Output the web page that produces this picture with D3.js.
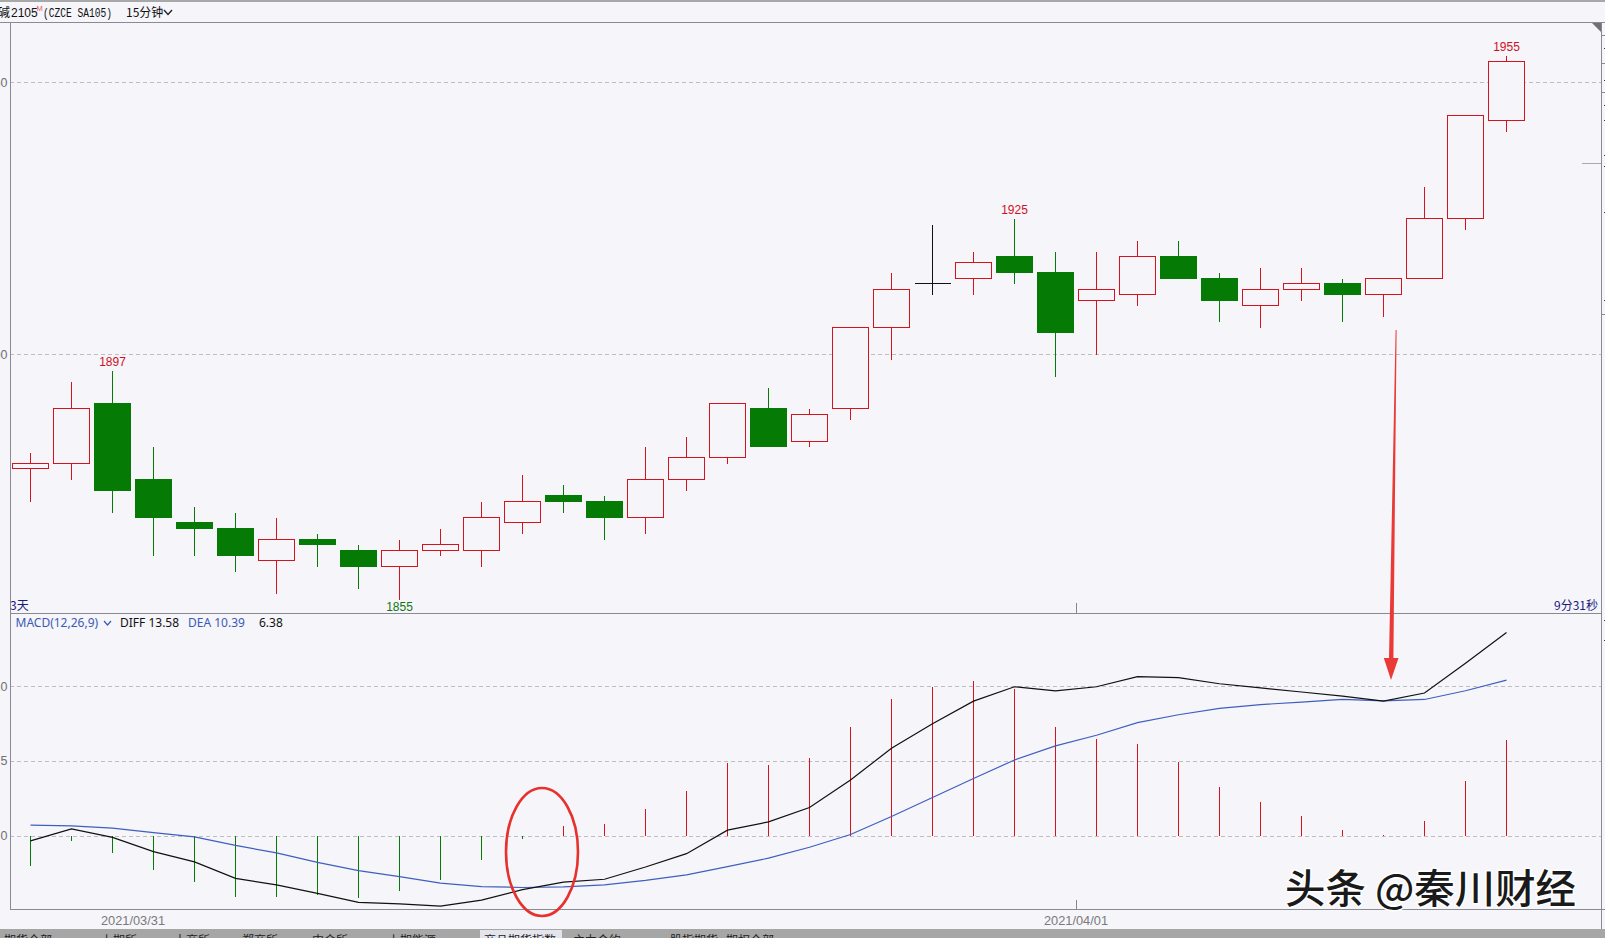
<!DOCTYPE html>
<html><head><meta charset="utf-8">
<script src="https://cdn.jsdelivr.net/npm/d3@7"></script>
<style>
html,body{margin:0;padding:0;background:#f5f5fa;overflow:hidden}
svg{display:block}
</style></head><body>
<svg id="c" width="1605" height="938"></svg>
<script>
// ---- data (15-minute bars, SA105) ----
const open  = [1879,1880,1891,1877,1869,1868,1862,1866,1864,1861,1864,1864,1869,1874,1873,1870,1877,1881,1890,1884,1890,1905,1913,1914,1918,1915,1910,1911,1918,1914,1909,1912,1913,1911,1914,1925,1943];
const high  = [1882,1895,1897,1883,1872,1871,1870,1867,1865,1866,1868,1873,1878,1876,1874,1883,1885,1891,1894,1890,1905,1915,1924,1919,1925,1919,1919,1921,1921,1915,1916,1916,1914,1914,1931,1944,1955];
const low   = [1873,1877,1871,1863,1863,1860,1856,1861,1857,1855,1863,1861,1867,1871,1866,1867,1875,1880,1883,1883,1888,1899,1911,1911,1913,1896,1900,1909,1914,1906,1905,1910,1906,1907,1914,1923,1941];
const close = [1880,1890,1875,1870,1868,1863,1866,1865,1861,1864,1865,1870,1873,1873,1870,1877,1881,1891,1883,1889,1905,1912,1913,1917,1915,1904,1912,1918,1914,1910,1912,1913,1911,1914,1925,1944,1954];
const diff  = [-0.35,0.45,-0.11,-1.06,-1.75,-2.85,-3.29,-3.85,-4.45,-4.56,-4.70,-4.30,-3.60,-3.10,-2.91,-2.09,-1.20,0.37,0.92,1.88,3.72,5.84,7.48,8.99,9.95,9.67,9.95,10.63,10.56,10.15,9.87,9.60,9.33,8.99,9.53,11.52,13.58];
const dea   = [0.70,0.65,0.50,0.20,-0.08,-0.65,-1.15,-1.78,-2.33,-2.73,-3.17,-3.40,-3.46,-3.42,-3.28,-2.99,-2.62,-2.07,-1.50,-0.77,0.08,1.28,2.55,3.82,5.06,6.00,6.71,7.55,8.08,8.50,8.76,8.92,9.10,9.00,9.10,9.68,10.39];
const macd  = [-2.05,-0.36,-1.14,-2.29,-3.09,-4.09,-4.09,-3.95,-4.16,-3.69,-2.95,-1.62,-0.24,0.65,0.78,1.80,2.98,4.88,4.75,5.22,7.27,9.13,9.95,10.35,9.81,7.27,6.46,6.12,4.95,3.25,2.22,1.33,0.38,0.05,0.98,3.65,6.38];
const priceTicks = [1900,1950];
const macdTicks  = [0,5,10];
const highLabelIdx = [2,24,36];
const lowLabelIdx  = [9];
const dateLabels = ["2021/03/31","2021/04/01"];
const dateIdx    = [3,26];
const tabLabels = ["期货全部","上期所","大商所","郑商所","中金所","上期能源","商品期货指数","主力合约","股指期货","期权全部"];

// ---- layout ----
const svg = d3.select("#c");
const L=10, R=1601, TOP=22, MAINB=613, MACDB=909;
const UP="#d5131d", DN="#057a05", BG="#f5f5fa";
const n = open.length;
const x  = d3.scaleBand().domain(d3.range(n)).range([L, L+41*n]);
const cx = i => x(i) + 20.5;
const y  = d3.scaleLinear().domain([1900,1950]).range([354,82.3]);
const ym = d3.scaleLinear().domain([0,10]).range([835.7,686]);
const snap = v => Math.round(v)+0.5;

svg.append("rect").attr("width",1605).attr("height",938).attr("fill",BG);
svg.append("rect").attr("width",1605).attr("height",2).attr("fill","#a8a8a8");

// grid
const g = svg.append("g");
g.selectAll(".pg").data(priceTicks).join("line")
  .attr("x1",L).attr("x2",R).attr("y1",d=>snap(y(d))).attr("y2",d=>snap(y(d)))
  .attr("stroke","#bdbdc4").attr("stroke-dasharray","4,3");
g.selectAll(".pt").data(priceTicks).join("text")
  .attr("x",7.5).attr("y",d=>y(d)+4.5).attr("text-anchor","end")
  .attr("font-family","Liberation Sans").attr("font-size",12.5).attr("fill","#707070").text(d=>d);
g.selectAll(".mg").data(macdTicks).join("line")
  .attr("x1",L).attr("x2",R).attr("y1",d=>snap(ym(d))).attr("y2",d=>snap(ym(d)))
  .attr("stroke","#bdbdc4").attr("stroke-dasharray","4,3");
g.selectAll(".mt").data(macdTicks).join("text")
  .attr("x",7.5).attr("y",d=>ym(d)+4.5).attr("text-anchor","end")
  .attr("font-family","Liberation Sans").attr("font-size",12.5).attr("fill","#707070").text(d=>d);

// MACD histogram
svg.append("g").selectAll("line").data(macd).join("line")
  .attr("x1",(d,i)=>cx(i)).attr("x2",(d,i)=>cx(i))
  .attr("y1",ym(0)).attr("y2",d=>ym(d))
  .attr("stroke",d=>d>=0?UP:DN).attr("stroke-width",1).attr("shape-rendering","crispEdges");

// MACD lines
const ln = d3.line().x((d,i)=>cx(i)).y(d=>ym(d));
svg.append("path").datum(dea).attr("d",ln).attr("fill","none").attr("stroke","#3f5fc0").attr("stroke-width",1.2);
svg.append("path").datum(diff).attr("d",ln).attr("fill","none").attr("stroke","#111").attr("stroke-width",1.2);

// candles
const cg = svg.append("g").attr("shape-rendering","crispEdges");
d3.range(n).forEach(i=>{
  const o=open[i], c=close[i], h=high[i], l=low[i], X=cx(i);
  const yt=snap(y(Math.max(o,c))), yb=snap(y(Math.min(o,c)));
  const yh=snap(y(h)), yl=snap(y(l));
  if(o===c){
    cg.append("line").attr("x1",X).attr("x2",X).attr("y1",yh).attr("y2",yl).attr("stroke","#111");
    cg.append("line").attr("x1",X-18).attr("x2",X+18).attr("y1",yt).attr("y2",yt).attr("stroke","#111");
  } else if(c>o){
    if(yh<yt) cg.append("line").attr("x1",X).attr("x2",X).attr("y1",yh).attr("y2",yt).attr("stroke",UP);
    if(yl>yb) cg.append("line").attr("x1",X).attr("x2",X).attr("y1",yb).attr("y2",yl).attr("stroke",UP);
    cg.append("rect").attr("x",X-18).attr("y",yt).attr("width",36).attr("height",yb-yt)
      .attr("fill",BG).attr("stroke",UP).attr("stroke-width",1);
  } else {
    cg.append("line").attr("x1",X).attr("x2",X).attr("y1",yh).attr("y2",yl).attr("stroke",DN);
    cg.append("rect").attr("x",X-18.5).attr("y",yt-0.5).attr("width",37).attr("height",Math.max(1,yb-yt+1))
      .attr("fill",DN);
  }
});

// extreme labels
svg.append("g").selectAll("text").data(highLabelIdx).join("text")
  .attr("x",i=>cx(i)).attr("y",i=>y(high[i])-4).attr("text-anchor","middle")
  .attr("font-family","Liberation Sans").attr("font-size",12).attr("fill","#d0101e").text(i=>high[i]);
svg.append("g").selectAll("text").data(lowLabelIdx).join("text")
  .attr("x",i=>cx(i)).attr("y",i=>y(low[i])+12.5).attr("text-anchor","middle")
  .attr("font-family","Liberation Sans").attr("font-size",12).attr("fill","#127512").text(i=>low[i]);

// frame
const fr = svg.append("g").attr("stroke","#8a8a94").attr("shape-rendering","crispEdges");
fr.append("line").attr("x1",0).attr("x2",1605).attr("y1",22.5).attr("y2",22.5);
fr.append("line").attr("x1",10.5).attr("x2",10.5).attr("y1",22).attr("y2",MACDB);
fr.append("line").attr("x1",R+0.5).attr("x2",R+0.5).attr("y1",22).attr("y2",938);
fr.append("line").attr("x1",L).attr("x2",R).attr("y1",MAINB+0.5).attr("y2",MAINB+0.5);
fr.append("line").attr("x1",L).attr("x2",1605).attr("y1",MACDB+0.5).attr("y2",MACDB+0.5);
svg.append("path").attr("d",`M${R-9},23 L${R},23 L${R},32 Z`).attr("fill","#707078");
// right strip fragments
[35,63,92,314].forEach(v=>svg.append("line").attr("x1",R).attr("x2",1605).attr("y1",v+0.5).attr("y2",v+0.5).attr("stroke","#8a8a94"));
[48,80,105,120,155,166,212,300,620,640].forEach(v=>svg.append("line").attr("x1",1604).attr("x2",1605).attr("y1",v+0.5).attr("y2",v+0.5).attr("stroke","#333"));
svg.append("line").attr("x1",1582).attr("x2",R).attr("y1",163.5).attr("y2",163.5).attr("stroke","#aaa");

// date separators / labels
svg.append("g").selectAll("line").data(dateIdx.slice(1)).join("line")
  .attr("x1",i=>x(i)+0.5).attr("x2",i=>x(i)+0.5).attr("y1",603).attr("y2",MAINB).attr("stroke","#888");
svg.append("g").selectAll("line").data(dateIdx.slice(1)).join("line")
  .attr("x1",i=>x(i)+0.5).attr("x2",i=>x(i)+0.5).attr("y1",900).attr("y2",MACDB).attr("stroke","#888");
svg.append("g").selectAll("text").data(dateLabels).join("text")
  .attr("x",(d,k)=>x(dateIdx[k])).attr("y",925).attr("text-anchor","middle")
  .attr("font-family","Liberation Sans Narrow, Liberation Sans").attr("font-size",12.5).attr("fill","#7a7a7a")
  .attr("textLength",64).attr("lengthAdjust","spacingAndGlyphs").text(d=>d);

// title bar
const cjk = "Noto Sans CJK SC";
svg.append("text").attr("x",10).attr("y",17).attr("text-anchor","end").attr("font-family",cjk).attr("font-size",12.5).attr("fill","#111").text("纯碱");
svg.append("text").attr("x",11).attr("y",17).attr("font-family","Liberation Sans").attr("font-size",12).attr("fill","#111").text("2105");
svg.append("text").attr("x",36.5).attr("y",10.5).attr("font-family","Liberation Sans").attr("font-size",7.5).attr("fill","#e05a5a").text("M");
svg.append("text").attr("x",43).attr("y",17).attr("font-family","Liberation Mono").attr("font-size",12)
  .attr("textLength",69).attr("lengthAdjust","spacingAndGlyphs").attr("fill","#111").text("(CZCE SA105)");
svg.append("text").attr("x",126).attr("y",17).attr("font-family",cjk).attr("font-size",12).attr("fill","#111").text("15分钟");
svg.append("path").attr("d","M164,10 L168,14.5 L172,10").attr("fill","none").attr("stroke","#222").attr("stroke-width",1.3);

// panel labels
svg.append("text").attr("x",10).attr("y",610).attr("font-family",cjk).attr("font-size",12).attr("fill","#1a1a7a").text("3天");
svg.append("text").attr("x",1598).attr("y",610).attr("text-anchor","end").attr("font-family",cjk).attr("font-size",12).attr("fill","#1a1a7a").text("9分31秒");
svg.append("text").attr("x",15.5).attr("y",627).attr("font-family","Noto Sans").attr("font-size",12).attr("fill","#3a5bb5").text("MACD(12,26,9)");
svg.append("path").attr("d","M104,621 L107.5,625 L111,621").attr("fill","none").attr("stroke","#3a5bb5").attr("stroke-width",1.2);
svg.append("text").attr("x",120).attr("y",627).attr("font-family","Noto Sans").attr("font-size",12).attr("fill","#111").text("DIFF "+diff[n-1].toFixed(2));
svg.append("text").attr("x",188).attr("y",627).attr("font-family","Noto Sans").attr("font-size",12).attr("fill","#3a5bb5").text("DEA "+dea[n-1].toFixed(2));
svg.append("text").attr("x",259).attr("y",627).attr("font-family","Noto Sans").attr("font-size",12).attr("fill","#111").text(macd[n-1].toFixed(2));

// annotations: red ellipse & arrow
svg.append("ellipse").attr("cx",542).attr("cy",852).attr("rx",36).attr("ry",64)
  .attr("fill","none").attr("stroke","#e8302c").attr("stroke-width",2.6);
svg.append("path").attr("d","M1395.6,330 L1396.6,330 L1393.4,658 L1398.5,658 L1391,680 L1383.8,658 L1389,658 Z")
  .attr("fill","#ea3a35");

// watermark
svg.append("text").attr("x",1285).attr("y",903).attr("font-family",cjk).attr("font-size",40).attr("font-weight",500)
  .attr("fill","#1a1a1a").attr("stroke","#ffffff").attr("stroke-width",3).attr("paint-order","stroke")
  .attr("textLength",291).attr("lengthAdjust","spacingAndGlyphs").text("头条 @秦川财经");

// bottom tab bar (mostly cut off)
svg.append("rect").attr("x",0).attr("y",929).attr("width",1605).attr("height",9).attr("fill","#a6a6a6");
svg.append("rect").attr("x",480).attr("y",930).attr("width",82).attr("height",8).attr("fill","#e4e4ec");
const tabX=[0,97,170,238,308,384,480,569,666,722];
svg.append("g").selectAll("text").data(tabLabels).join("text")
  .attr("x",(d,k)=>tabX[k]+4).attr("y",945).attr("font-family",cjk).attr("font-size",12).attr("fill","#222").text(d=>d);
</script>
</body></html>
